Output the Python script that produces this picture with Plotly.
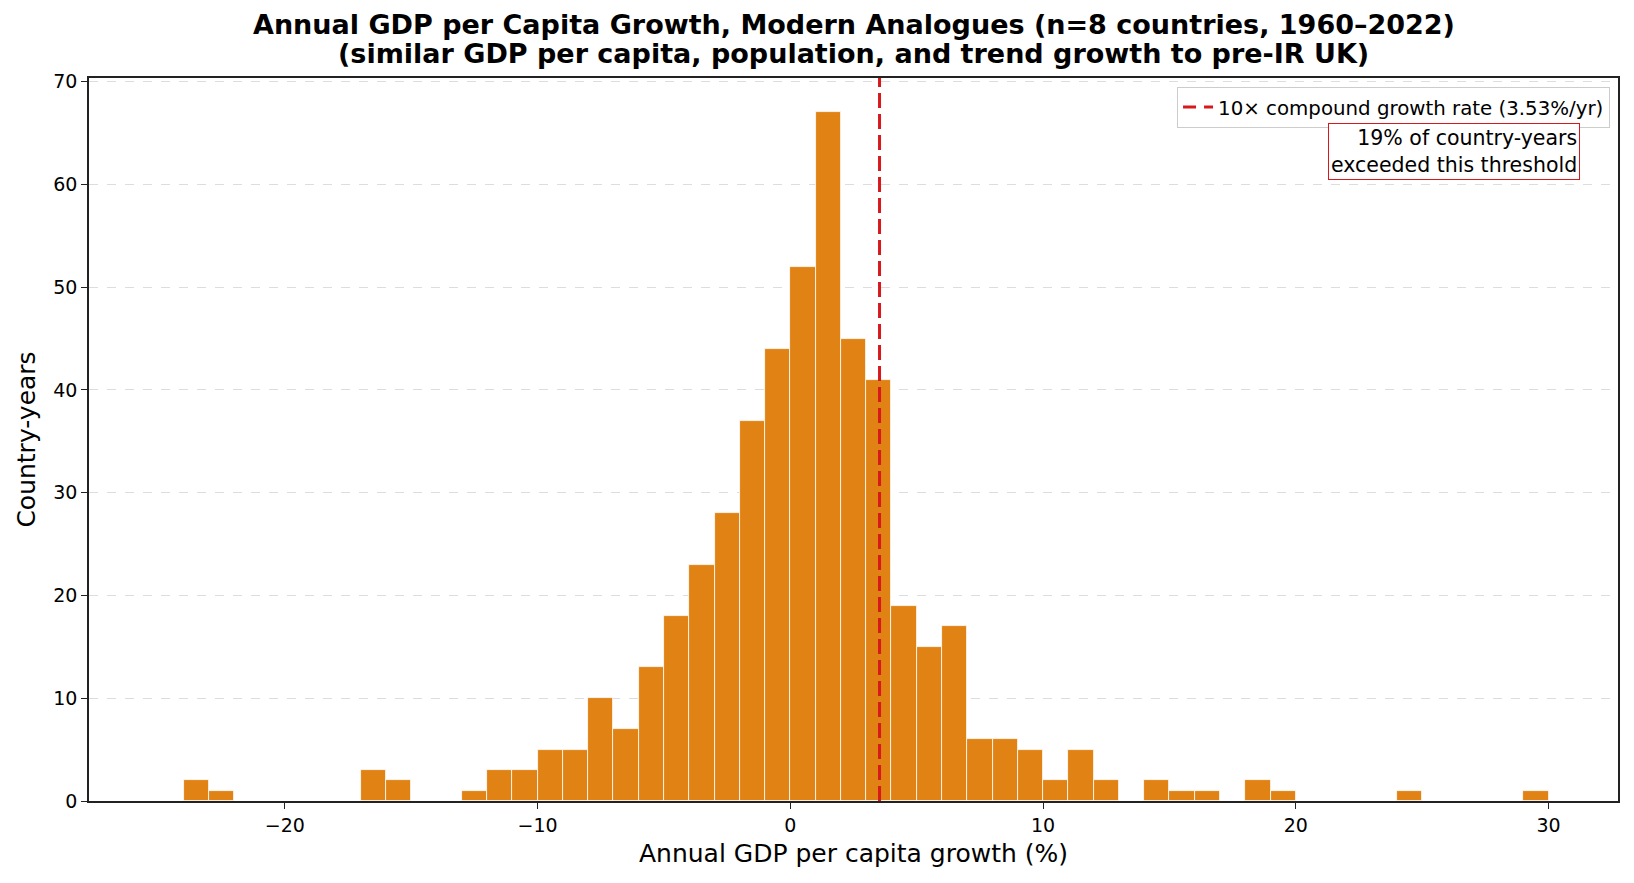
import plotly.graph_objects as go

# Histogram bins (left edges, width 1) and counts
bin_left = [-24, -23, -17, -16, -13, -12, -11, -10, -9, -8, -7, -6, -5, -4, -3, -2, -1,
            0, 1, 2, 3, 4, 5, 6, 7, 8, 9, 10, 11, 12, 14, 15, 16, 18, 19, 24, 29]
counts = [2, 1, 3, 2, 1, 3, 3, 5, 5, 10, 7, 13, 18, 23, 28, 37, 44,
          52, 67, 45, 41, 19, 15, 17, 6, 6, 5, 2, 5, 2, 2, 1, 1, 2, 1, 1, 1]
BIN_WIDTH = 1.0
THRESHOLD = 3.53
SHARE_ABOVE = 19

x_tickvals = [-20, -10, 0, 10, 20, 30]
x_ticktext = ["−20", "−10", "0", "10", "20", "30"]
y_tickvals = [0, 10, 20, 30, 40, 50, 60, 70]

TITLE_1 = "Annual GDP per Capita Growth, Modern Analogues (n=8 countries, 1960–2022)"
TITLE_2 = "(similar GDP per capita, population, and trend growth to pre-IR UK)"

ORANGE = "#e08214"
RED = "#d7191c"
FONT = "DejaVu Sans"

centers = [b + BIN_WIDTH / 2 for b in bin_left]

fig = go.Figure()
fig.add_trace(go.Bar(
    x=centers, y=counts, width=[BIN_WIDTH] * len(centers),
    marker=dict(color=ORANGE, line=dict(color="white", width=0.8)),
    showlegend=False, hoverinfo="x+y",
))
# legend entry for the threshold line
fig.add_trace(go.Scatter(
    x=[None], y=[None], mode="lines",
    line=dict(color=RED, width=3, dash="13px,8px"),
    name=f"10× compound growth rate ({THRESHOLD:.2f}%/yr)",
))
fig.add_shape(type="line", xref="x", yref="paper", x0=THRESHOLD, x1=THRESHOLD, y0=0, y1=1,
              line=dict(color=RED, width=3, dash="15px,6px"))

fig.add_annotation(
    xref="paper", yref="paper", x=0.975, y=0.938, xanchor="right", yanchor="top",
    text=f"{SHARE_ABOVE}% of country-years<br>exceeded this threshold",
    align="right", showarrow=False,
    font=dict(family=FONT, size=20.5, color="black"),
    bgcolor="white", bordercolor=RED, borderwidth=1, borderpad=2,
)

for txt, yy in [(TITLE_1, 1.0734), (TITLE_2, 1.0334)]:
    fig.add_annotation(
        xref="paper", yref="paper", x=0.5, y=yy, xanchor="center", yanchor="middle",
        text=f"<b>{txt}</b>", showarrow=False,
        font=dict(family=FONT, size=27, color="black"),
    )

ymax = max(counts) * 1.05
fig.update_layout(
    width=1634, height=883,
    margin=dict(l=89, r=16, t=78, b=82),
    paper_bgcolor="white", plot_bgcolor="white",
    font=dict(family=FONT, size=19, color="black"),
    bargap=0,
    legend=dict(
        x=0.9948, y=0.988, xanchor="right", yanchor="top",
        bgcolor="white", bordercolor="#cccccc", borderwidth=1,
        font=dict(family=FONT, size=19.8),
    ),
    xaxis=dict(
        range=[-27.75, 32.75], tickvals=x_tickvals, ticktext=x_ticktext,
        showline=True, linecolor="#222222", linewidth=1.5, mirror=True,
        ticks="outside", ticklen=6, tickcolor="#222222", showgrid=False, zeroline=False,
        title=dict(text="Annual GDP per capita growth (%)", font=dict(family=FONT, size=25), standoff=10),
        tickfont=dict(family=FONT, size=19),
    ),
    yaxis=dict(
        range=[0, ymax], tickvals=y_tickvals,
        showline=True, linecolor="#222222", linewidth=1.5, mirror=True,
        ticks="outside", ticklen=6, tickcolor="#222222",
        showgrid=True, gridcolor="#dddddd", griddash="dash", gridwidth=1, zeroline=False,
        title=dict(text="Country-years", font=dict(family=FONT, size=25), standoff=11),
        tickfont=dict(family=FONT, size=19),
    ),
)

fig.write_html("out.html")
